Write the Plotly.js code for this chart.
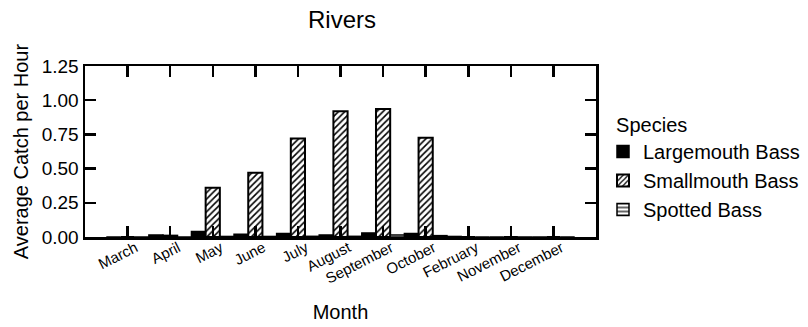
<!DOCTYPE html>
<html>
<head>
<meta charset="utf-8">
<script src="https://cdn.plot.ly/plotly-3.0.1.min.js"></script>
<style>html,body{margin:0;padding:0;background:#fff;}#chart{width:808px;height:327px;}</style>
</head>
<body>
<div id="chart"></div>
<script>
var months = ["March","April","May","June","July","August","September","October","February","November","December"];
var largemouth = [0, 0.015, 0.04, 0.02, 0.025, 0.015, 0.03, 0.025, 0.004, 0, 0];
var smallmouth = [0, 0.01, 0.36, 0.47, 0.72, 0.92, 0.935, 0.725, 0, 0, 0];
var spotted = [0, 0, 0.004, 0.004, 0.005, 0.005, 0.015, 0.01, 0, 0, 0];
var speciesNames = ["Largemouth Bass","Smallmouth Bass","Spotted Bass"];

var FONT = "Liberation Sans, Arial, sans-serif";
var traces = [
  {type:"bar", name:speciesNames[0], x:months, y:largemouth,
   marker:{color:"#000", line:{color:"#000", width:1.5}}},
  {type:"bar", name:speciesNames[1], x:months, y:smallmouth,
   marker:{color:"#fff", line:{color:"#000", width:2},
     pattern:{shape:"/", fgcolor:"#000", bgcolor:"#fff", size:4.5, solidity:0.35}}},
  {type:"bar", name:speciesNames[2], x:months, y:spotted,
   marker:{color:"#fff", line:{color:"#000", width:1.5},
     pattern:{shape:"-", fgcolor:"#000", bgcolor:"#fff", size:5, solidity:0.3}}}
];

var axisCommon = {
  showline:true, linecolor:"#000", linewidth:2.5, mirror:"ticks",
  ticks:"inside", ticklen:11, tickwidth:2.5, tickcolor:"#000",
  showgrid:false, zeroline:false
};

var layout = {
  width:808, height:327,
  margin:{l:85, r:212, t:66, b:90, autoexpand:false},
  paper_bgcolor:"#fff", plot_bgcolor:"#fff",
  font:{family:FONT, color:"#000"},
  title:{text:"Rivers", font:{family:FONT, size:24, color:"#000"}, x:342/808, xanchor:"center", y:1-20/327, yanchor:"middle"},
  barmode:"group", bargap:0, bargroupgap:0,
  showlegend:true,
  legend:{xref:"container", yref:"container", x:603/808, xanchor:"left", y:1-106/327, yanchor:"top",
    title:{text:"\u00a0\u00a0Species", font:{family:FONT, size:20}},
    font:{family:FONT, size:20, color:"#000"}, tracegroupgap:0, bgcolor:"rgba(0,0,0,0)"},
  xaxis:Object.assign({}, axisCommon, {
    type:"category", range:[-1, 11], tickangle:-27,
    tickfont:{family:FONT, size:15},
    ticklabelstandoff:-6, ticklabelshift:8,
    title:{text:"Month", font:{family:FONT, size:20}, standoff:20}
  }),
  yaxis:Object.assign({}, axisCommon, {
    range:[0, 1.25], dtick:0.25, tick0:0, tickformat:".2f",
    tickfont:{family:FONT, size:19},
    title:{text:"Average Catch per Hour", font:{family:FONT, size:20}, standoff:8}
  })
};

Plotly.newPlot("chart", traces, layout, {displayModeBar:false, staticPlot:true});
</script>
</body>
</html>
